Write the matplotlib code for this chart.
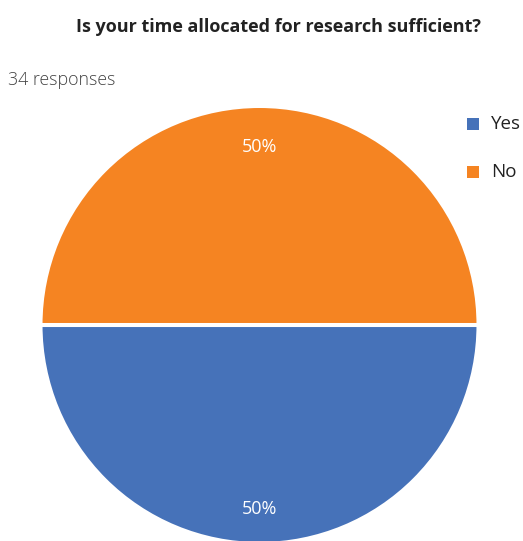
import matplotlib
matplotlib.use("Agg")
import matplotlib.pyplot as plt
from matplotlib.patches import Rectangle

title = "Is your time allocated for research sufficient?"
subtitle = "34 responses"
labels = ["Yes", "No"]
values = [17, 17]
colors = ["#4672b9", "#f58422"]

W, H = 523, 541
fig = plt.figure(figsize=(W / 100, H / 100), dpi=100)
ax = fig.add_axes([0, 0, 1, 1])

wedges, texts, autotexts = ax.pie(
    values,
    colors=colors,
    center=(259.5, H - 325),
    radius=219,
    startangle=180,
    counterclock=True,
    autopct="%1.0f%%",
    pctdistance=0.825,
    wedgeprops=dict(edgecolor="white", linewidth=2.9),
    textprops=dict(color="white", fontsize=13, family="Open Sans"),
    frame=True,
)
# nudge percentage labels slightly downward
for t in autotexts:
    x, y = t.get_position()
    t.set_position((x, y - 3))

ax.set_xlim(0, W)
ax.set_ylim(0, H)
ax.set_aspect("equal")
ax.axis("off")

fig.text(278 / W, 1 - 27 / H, title, ha="center", va="center",
         fontsize=13, fontweight="bold", family="Open Sans", color="#222222")
fig.text(8 / W, 1 - 80 / H, subtitle, ha="left", va="center",
         fontsize=12.8, fontweight="light", family="Open Sans", color="#444444")

# legend: small colour squares with labels at the right
legend_y = [124, 172]
for lab, col, yy in zip(labels, colors, legend_y):
    fig.patches.append(Rectangle((467 / W, 1 - (yy + 6) / H), 12 / W, 12 / H,
                                 transform=fig.transFigure, facecolor=col,
                                 edgecolor="none"))
    fig.text(491 / W, 1 - yy / H, lab, ha="left", va="center",
             fontsize=13.5, family="Open Sans", color="#222222")

fig.savefig("out.png", dpi=100)
